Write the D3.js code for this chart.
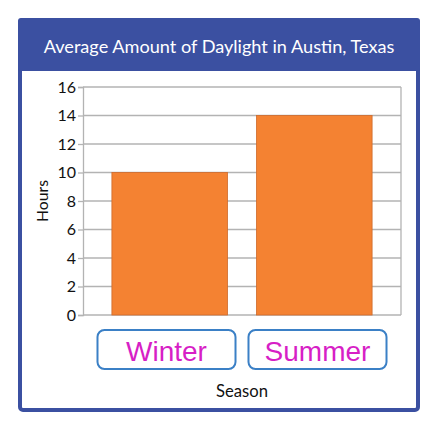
<!DOCTYPE html>
<html><head><meta charset="utf-8">
<script src="https://cdn.jsdelivr.net/npm/d3@7"></script>
<style>html,body{margin:0;padding:0;background:#fff;}svg{display:block;}</style>
</head><body>
<svg id="chart" width="445" height="425"></svg>
<script>
const categories = ["Winter", "Summer"];
const hours = [10, 14];
const yTicks = [0, 2, 4, 6, 8, 10, 12, 14, 16];
const title = "Average Amount of Daylight in Austin, Texas";
const xTitle = "Season";
const yTitle = "Hours";

const svg = d3.select("#chart");
const blue = "#3b50a1";
const font = "Lato, 'Open Sans', sans-serif";

function fitWidth(sel, base, target) {
  const w = sel.node().getComputedTextLength();
  sel.style("font-size", (base * target / w).toFixed(2) + "px");
}

// frame
svg.append("rect").attr("x", 20).attr("y", 20).attr("width", 398).attr("height", 390)
  .attr("rx", 3).attr("fill", "#fff").attr("stroke", blue).attr("stroke-width", 4);
svg.append("rect").attr("x", 18).attr("y", 18).attr("width", 402).attr("height", 53)
  .attr("rx", 3).attr("fill", blue);

const t = svg.append("text").attr("x", 219).attr("y", 53).attr("text-anchor", "middle")
  .attr("fill", "#fff").style("font-family", font).style("font-size", "17px").text(title);
fitWidth(t, 17, 351);

const plot = {left: 83, right: 401, top: 87, bottom: 315};
const x = d3.scaleBand().domain(categories).range([plot.left, plot.right]).paddingInner(0.2).paddingOuter(0.2);
const xBox = d3.scaleBand().domain(categories).range([plot.left, plot.right]).paddingInner(0.086).paddingOuter(0.096);
const y = d3.scaleLinear().domain([0, 16]).range([plot.bottom, plot.top]);

// grid
svg.append("g").selectAll("line").data(yTicks).join("line")
  .attr("x1", plot.left).attr("x2", plot.right)
  .attr("y1", d => y(d)).attr("y2", d => y(d))
  .attr("stroke", "#b3b3b3").attr("stroke-width", 1.3);
svg.append("line").attr("x1", plot.right).attr("x2", plot.right).attr("y1", plot.top).attr("y2", plot.bottom)
  .attr("stroke", "#b3b3b3").attr("stroke-width", 1.3);

// bars
svg.append("g").selectAll("rect").data(categories).join("rect")
  .attr("x", d => x(d)).attr("width", x.bandwidth())
  .attr("y", (d, i) => y(hours[i])).attr("height", (d, i) => y(0) - y(hours[i]))
  .attr("fill", "#f48232").attr("stroke", "#cf6a2b").attr("stroke-width", 0.8);

// y axis
const yAxis = d3.axisLeft(y).tickValues(yTicks).tickSize(5).tickPadding(2);
const ga = svg.append("g").attr("transform", `translate(${plot.left},0)`).call(yAxis);
ga.select(".domain").attr("stroke", "#b3b3b3").attr("stroke-width", 1.3);
ga.selectAll(".tick line").attr("stroke", "#b3b3b3").attr("stroke-width", 1.3);
ga.selectAll(".tick text").attr("fill", "#111").style("font-family", font).style("font-size", "16px");

// category boxes
const boxes = svg.append("g").selectAll("g").data(categories).join("g");
boxes.append("rect").attr("x", d => xBox(d)).attr("y", 330).attr("width", xBox.bandwidth()).attr("height", 39)
  .attr("rx", 7).attr("fill", "#fff").attr("stroke", "#3b80c6").attr("stroke-width", 2);
boxes.append("text").attr("x", d => xBox(d) + xBox.bandwidth() / 2).attr("y", 361)
  .attr("text-anchor", "middle").attr("fill", "#d71fc6")
  .style("font-family", "'Liberation Sans', Arial, sans-serif").style("font-size", "28px").text(d => d);

// axis titles
const st = svg.append("text").attr("x", 242).attr("y", 397).attr("text-anchor", "middle").attr("fill", "#111")
  .style("font-family", font).style("font-size", "15px").text(xTitle);
fitWidth(st, 15, 52);
const ht = svg.append("text").attr("transform", "translate(48,201) rotate(-90)").attr("text-anchor", "middle").attr("fill", "#111")
  .style("font-family", font).style("font-size", "15px").text(yTitle);
fitWidth(ht, 15, 42);
</script>
</body></html>
